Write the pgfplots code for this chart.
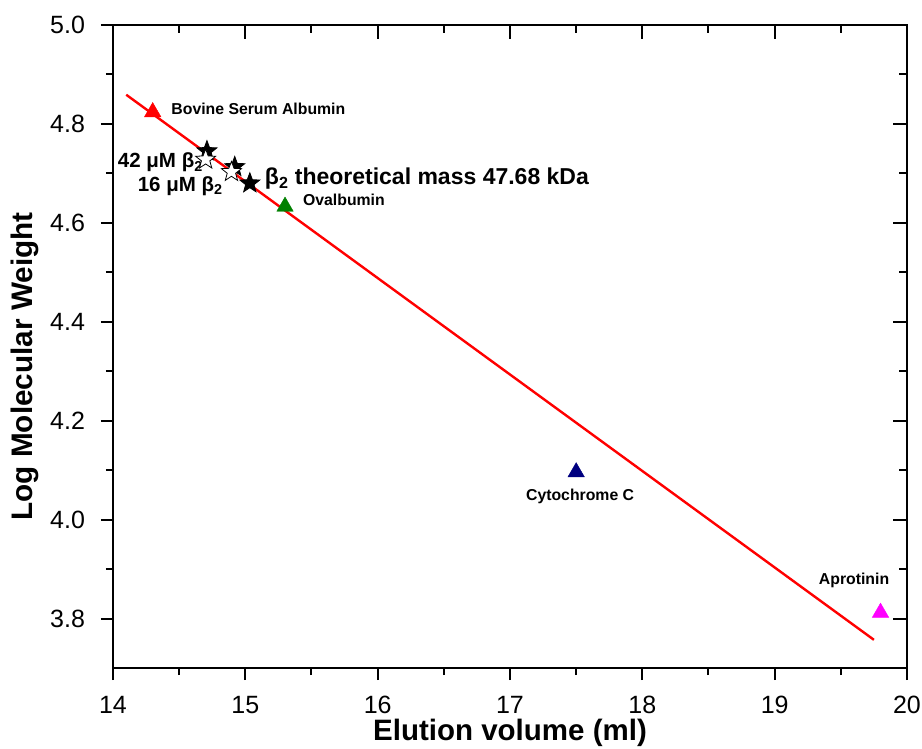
\documentclass[border=0pt]{standalone}
\usepackage{pgfplots}
\pgfplotsset{compat=1.18}
\usepackage{fontspec}
\setmainfont{Liberation Sans}
\definecolor{navyc}{RGB}{0,0,128}
\definecolor{greenc}{RGB}{0,128,0}
\definecolor{magc}{RGB}{255,0,255}
\pgfdeclareplotmark{fivestar}{%
  \pgfpathmoveto{\pgfpointpolar{90}{\pgfplotmarksize}}%
  \pgfpathlineto{\pgfpointpolar{126}{0.42\pgfplotmarksize}}%
  \pgfpathlineto{\pgfpointpolar{162}{\pgfplotmarksize}}%
  \pgfpathlineto{\pgfpointpolar{198}{0.42\pgfplotmarksize}}%
  \pgfpathlineto{\pgfpointpolar{234}{\pgfplotmarksize}}%
  \pgfpathlineto{\pgfpointpolar{270}{0.42\pgfplotmarksize}}%
  \pgfpathlineto{\pgfpointpolar{306}{\pgfplotmarksize}}%
  \pgfpathlineto{\pgfpointpolar{342}{0.42\pgfplotmarksize}}%
  \pgfpathlineto{\pgfpointpolar{18}{\pgfplotmarksize}}%
  \pgfpathlineto{\pgfpointpolar{54}{0.42\pgfplotmarksize}}%
  \pgfpathclose
  \pgfusepathqfillstroke
}
\begin{document}
\begin{tikzpicture}
\useasboundingbox (-113pt,-80pt) rectangle (809pt,668pt);
\pgfplotsset{
  common/.style={
    scale only axis, width=794pt, height=643pt,
    at={(0,0)}, anchor=south west,
    xmin=14, xmax=20, ymin=3.7, ymax=5.0,
    xtick={14,15,...,20}, ytick={3.8,4.0,...,5.0},
    minor x tick num=1, minor y tick num=1,
    tick style={black, line width=2pt},
    minor tick style={black, line width=2pt},
  }
}
\begin{axis}[common,
  major tick length=12pt, minor tick length=7pt,
  axis line style={line width=2pt},
  xtick pos=bottom, ytick pos=left, tick align=outside,
  /pgf/number format/assume math mode=true,
  tick label style={font=\fontsize{25}{28}\selectfont},
  yticklabel style={/pgf/number format/fixed, /pgf/number format/fixed zerofill, /pgf/number format/precision=1, xshift=-12.5pt},
  xticklabel style={yshift=-13pt},
  xlabel={\textbf{Elution volume (ml)}},
  ylabel={\textbf{Log Molecular Weight}},
  xlabel style={font=\fontsize{29.5}{33}\selectfont, at={(axis description cs:0.5,-0.101)}, anchor=center},
  ylabel style={font=\fontsize{29.7}{33}\selectfont, at={(axis description cs:-0.1008,0.469)}, anchor=base},
  clip=false,
]
% calibration line
\addplot[red, line width=2.4pt] coordinates {(14.10,4.859) (19.75,3.757)};
% standards
\addplot[only marks, mark=triangle*, mark size=9.5pt, red, mark options={fill=red}] coordinates {(14.30,4.824)};
\addplot[only marks, mark=triangle*, mark size=9.5pt, greenc, mark options={fill=greenc}] coordinates {(15.30,4.633)};
\addplot[only marks, mark=triangle*, mark size=9.5pt, navyc, mark options={fill=navyc}] coordinates {(17.50,4.096)};
\addplot[only marks, mark=triangle*, mark size=9.5pt, magc, mark options={fill=magc}] coordinates {(19.80,3.812)};
% beta2 samples
\addplot[only marks, mark=fivestar, mark size=10.5pt, mark options={fill=black, draw=black, line width=0.8pt}] coordinates {(14.71,4.745) (14.92,4.713) (15.034,4.680)};
\addplot[only marks, mark=fivestar, mark size=10.5pt, mark options={fill=white, draw=black, line width=0.8pt}] coordinates {(14.70,4.728) (14.895,4.703)};
% labels
\node[anchor=west, font=\bfseries\fontsize{15.8}{18}\selectfont] at (axis cs:14.415,4.830) {Bovine Serum Albumin};
\node[anchor=west, font=\bfseries\fontsize{15.8}{18}\selectfont] at (axis cs:15.41,4.646) {Ovalbumin};
\node[anchor=center, font=\bfseries\fontsize{15.8}{18}\selectfont] at (axis cs:17.53,4.047) {Cytochrome C};
\node[anchor=center, font=\bfseries\fontsize{15.8}{18}\selectfont] at (axis cs:19.6,3.877) {Aprotinin};
\node[anchor=base east, inner sep=0pt, font=\bfseries\fontsize{20.5}{23}\selectfont] at (axis cs:14.68,4.711) {42 μM β\textsubscript{2}};
\node[anchor=base east, inner sep=0pt, font=\bfseries\fontsize{20.5}{23}\selectfont] at (axis cs:14.83,4.663) {16 μM β\textsubscript{2}};
\node[anchor=base west, inner sep=0pt, font=\bfseries\fontsize{23}{26}\selectfont] at (axis cs:15.147,4.677) {β\textsubscript{2} theoretical mass 47.68 kDa};
\end{axis}
\begin{axis}[common,
  major tick length=14pt, minor tick length=8pt,
  axis line style={draw=none},
  xtick pos=top, ytick pos=right, tick align=inside,
  xticklabels={}, yticklabels={},
]
\end{axis}
\end{tikzpicture}
\end{document}
